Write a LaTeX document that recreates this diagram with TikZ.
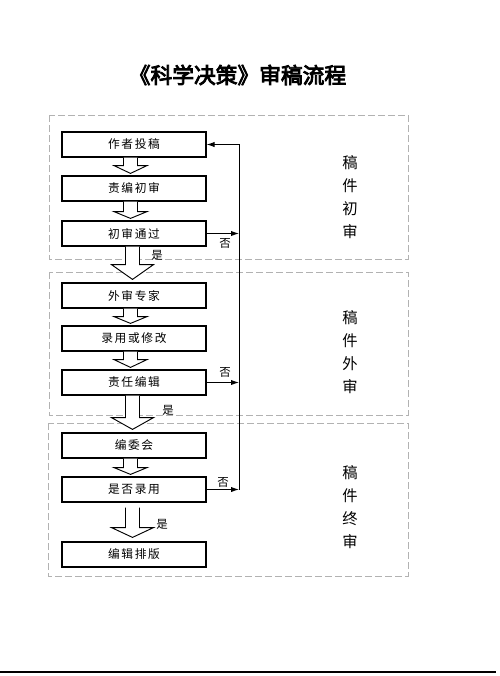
\documentclass[tikz,border=0pt]{standalone}
\usepackage{fontspec}
\setmainfont{Noto Sans CJK SC}
\newfontfamily\boxfont[LetterSpace=14]{Noto Sans CJK SC}
\newfontfamily\titlefont[BoldFont=*,BoldFeatures={FakeBold=4}]{Noto Sans CJK SC}
\usetikzlibrary{calc,arrows.meta}
\newcommand\harr[8]{\draw[hollow] ($(#1.south)+(#3-#4,#6)$) -- ($(#1.south)+(#3-#4,#7)$) -- ($(#1.south)+(#3-#5,#7)$) -- ($(#2.north)+(#3,-#8)$) -- ($(#1.south)+(#3+#5,#7)$) -- ($(#1.south)+(#3+#4,#7)$) -- ($(#1.south)+(#3+#4,#6)$);}
\begin{document}
\begin{tikzpicture}[x=0.75pt,y=-0.75pt,
  box/.style={draw, line width=0.9pt, minimum width=108pt, minimum height=18.75pt, inner sep=0pt, font=\boxfont\fontsize{8.8}{10}\selectfont},
  hollow/.style={draw, line width=0.7pt, fill=white},
  region/.style={draw=gray!60, line width=0.5pt, dash pattern=on 5pt off 2.5pt},
  lab/.style={font=\fontsize{8.6}{10}\selectfont, inner sep=0pt},
  side/.style={font=\fontsize{11.5}{17.3}\selectfont, align=center, inner sep=0pt},
  fbline/.style={line width=0.7pt},
  fbarrow/.style={line width=0.7pt, -{Latex[length=6pt,width=4pt]}}]
\useasboundingbox (0,0) rectangle (500,676);
% title
\node[font=\titlefont\bfseries\fontsize{16.3}{18}\selectfont, inner sep=0pt] (title) at (237.5,75) {《科学决策》审稿流程};
% regions
\draw[region] (49,115) rectangle (408,259);
\draw[region] (49,272) rectangle (408,415);
\draw[region] (48,423) rectangle (408,576);
% boxes
\node[box] (b1) at (134,144.5) {作者投稿};
\node[box] (b2) at (134,188.5) {责编初审};
\node[box] (b3) at (134,233.5) {初审通过};
\node[box] (b4) at (134,295.5) {外审专家};
\node[box] (b5) at (134,338.5) {录用或修改};
\node[box] (b6) at (134,382.5) {责任编辑};
\node[box] (b7) at (134,445.5) {编委会};
\node[box] (b8) at (134,489.5) {是否录用};
\node[box] (b9) at (134,554.5) {编辑排版};
% hollow arrows
\harr{b1}{b2}{-3.5}{7}{16.5}{0}{8}{2}
\harr{b2}{b3}{-3.5}{7}{16.5}{0}{10}{2}
\harr{b4}{b5}{-3.5}{7}{16.5}{0}{8}{2}
\harr{b5}{b6}{-3.5}{7}{16.5}{0}{8}{2}
\harr{b7}{b8}{-3.5}{7}{16.5}{0}{9}{2}
\harr{b3}{b4}{-1.5}{7}{21}{0}{18}{3}
\harr{b6}{b7}{-1.5}{7}{21}{0}{22}{3}
\harr{b8}{b9}{-1.5}{7}{21}{5}{25}{4}
% yes labels
\node[lab] (y1) at (157,255) {是};
\node[lab] (y2) at (168,410) {是};
\node[lab] (y3) at (162,524) {是};
% feedback
\coordinate (fb) at (239,144.5);
\draw[fbarrow] (b3.east) -- (b3.east -| fb);
\draw[fbarrow] (b6.east) -- (b6.east -| fb);
\draw[fbarrow] (b8.east) -- (b8.east -| fb);
\draw[fbarrow] (b8.east -| fb) -- (fb) -- (b1.east);
\node[lab] (n1) at (225,243) {否};
\node[lab] (n2) at (225,372) {否};
\node[lab] (n3) at (223,482) {否};
% side labels
\node[side] (s1) at (350,197.5) {稿\\件\\初\\审};
\node[side] (s2) at (350,352.5) {稿\\件\\外\\审};
\node[side] (s3) at (350,507.5) {稿\\件\\终\\审};
% bottom rule
\draw[line width=2.2pt] (0,672) -- (496,672);
\end{tikzpicture}
\end{document}
